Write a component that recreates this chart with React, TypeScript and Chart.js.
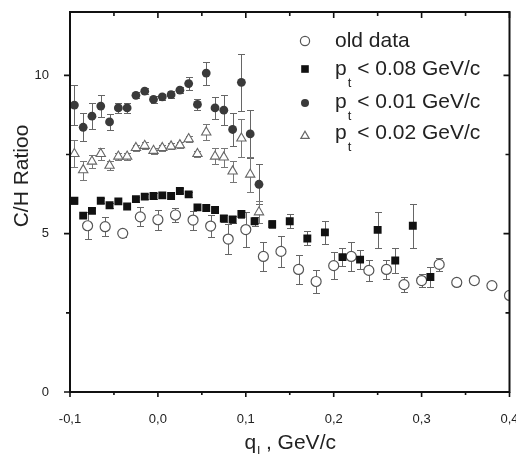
import React, { useEffect, useRef } from 'react';
import { Chart, registerables } from 'chart.js';

Chart.register(...registerables);

const FONT = '"Liberation Sans", Arial, Helvetica, sans-serif';

// x positions
const fineX = [-0.095, -0.085, -0.075, -0.065, -0.055, -0.045, -0.035, -0.025, -0.015, -0.005, 0.005, 0.015, 0.025, 0.035, 0.045, 0.055, 0.065, 0.075, 0.085, 0.095, 0.105, 0.115];
const squareX = [-0.095, -0.085, -0.075, -0.065, -0.055, -0.045, -0.035, -0.025, -0.015, -0.005, 0.005, 0.015, 0.025, 0.035, 0.045, 0.055, 0.065, 0.075, 0.085, 0.095, 0.11, 0.13, 0.15, 0.17, 0.19, 0.21, 0.23, 0.25, 0.27, 0.29, 0.31];
const oldX = [-0.08, -0.06, -0.04, -0.02, 0.0, 0.02, 0.04, 0.06, 0.08, 0.1, 0.12, 0.14, 0.16, 0.18, 0.2, 0.22, 0.24, 0.26, 0.28, 0.3, 0.32, 0.34, 0.36, 0.38, 0.4];

// series values
const oldY = [5.25, 5.22, 5.01, 5.53, 5.44, 5.59, 5.43, 5.24, 4.83, 5.13, 4.28, 4.44, 3.87, 3.49, 3.99, 4.28, 3.84, 3.87, 3.39, 3.52, 4.03, 3.46, 3.52, 3.36, 3.05];
const oldErr = [0.43, 0.3, 0.12, 0.3, 0.31, 0.21, 0.3, 0.36, 0.47, 0.56, 0.47, 0.5, 0.46, 0.35, 0.42, 0.47, 0.33, 0.3, 0.24, 0.21, 0.21, 0.1, 0.1, 0.1, 0.1];

const sq008Y = [6.04, 5.57, 5.72, 6.04, 5.9, 6.02, 5.86, 6.09, 6.17, 6.19, 6.21, 6.19, 6.35, 6.24, 5.83, 5.81, 5.75, 5.48, 5.45, 5.62, 5.39, 5.3, 5.39, 4.85, 5.04, 4.26, 4.18, 5.12, 4.15, 5.25, 3.63];
const sq008Err = [0.1, 0.08, 0.08, 0.08, 0.08, 0.08, 0.08, 0.08, 0.08, 0.08, 0.08, 0.08, 0.08, 0.08, 0.08, 0.08, 0.1, 0.12, 0.12, 0.12, 0.15, 0.12, 0.22, 0.22, 0.36, 0.29, 0.31, 0.57, 0.39, 0.7, 0.32];

const circ001Y = [9.06, 8.36, 8.71, 9.03, 8.53, 8.97, 8.97, 9.37, 9.5, 9.24, 9.32, 9.39, 9.53, 9.74, 9.08, 10.07, 8.97, 8.9, 8.29, 9.78, 8.15, 6.56];
const circ001Err = [0.64, 0.44, 0.41, 0.35, 0.25, 0.16, 0.15, 0.1, 0.1, 0.1, 0.1, 0.1, 0.1, 0.2, 0.17, 0.36, 0.34, 0.47, 0.51, 0.9, 0.75, 0.63];

const tri002Y = [7.52, 7.01, 7.28, 7.52, 7.15, 7.44, 7.44, 7.71, 7.78, 7.62, 7.71, 7.76, 7.8, 7.99, 7.52, 8.2, 7.44, 7.41, 6.97, 8.01, 6.87, 5.68];
const tri002Err = [0.43, 0.3, 0.22, 0.2, 0.15, 0.1, 0.1, 0.1, 0.1, 0.1, 0.1, 0.1, 0.1, 0.1, 0.1, 0.25, 0.25, 0.3, 0.34, 0.6, 0.55, 0.35];

// ticks
const xMajor = [-0.1, 0, 0.1, 0.2, 0.3, 0.4];
const xMinor = [-0.05, 0.05, 0.15, 0.25, 0.35];
const yMajor = [0, 5, 10];
const yMinor = [2.5, 7.5];

const legendItems = ['old data', '< 0.08 GeV/c', '< 0.01 GeV/c', '< 0.02 GeV/c'];

const zip = (xs: number[], ys: number[]) => ys.map((y, i) => ({ x: xs[i], y }));

const errorBarPlugin = {
  id: 'errorBars',
  beforeDatasetsDraw(chart: any) {
    const { ctx, chartArea } = chart;
    const xs = chart.scales.x;
    const ys = chart.scales.y;
    ctx.save();
    ctx.beginPath();
    ctx.rect(chartArea.left, chartArea.top, chartArea.right - chartArea.left, chartArea.bottom - chartArea.top);
    ctx.clip();
    chart.data.datasets.forEach((ds: any) => {
      const errs = ds.errors;
      if (!errs) return;
      ctx.strokeStyle = ds.errorColor;
      ctx.lineWidth = 1;
      ds.data.forEach((p: any, i: number) => {
        const e = errs[i];
        if (!e) return;
        const px = Math.round(xs.getPixelForValue(p.x)) + 0.5;
        const top = Math.round(ys.getPixelForValue(p.y + e)) + 0.5;
        const bot = Math.round(ys.getPixelForValue(p.y - e)) + 0.5;
        ctx.beginPath();
        ctx.moveTo(px, top);
        ctx.lineTo(px, bot);
        ctx.moveTo(px - 3.5, top);
        ctx.lineTo(px + 3.5, top);
        ctx.moveTo(px - 3.5, bot);
        ctx.lineTo(px + 3.5, bot);
        ctx.stroke();
      });
    });
    ctx.restore();
  },
};

const framePlugin = {
  id: 'frame',
  afterDatasetsDraw(chart: any) {
    const { ctx, chartArea } = chart;
    const { left, right, top, bottom } = chartArea;
    const xs = chart.scales.x;
    const ys = chart.scales.y;
    ctx.save();
    ctx.strokeStyle = '#111';
    ctx.lineWidth = 2;
    ctx.strokeRect(left, top, right - left, bottom - top);
    ctx.lineWidth = 1.6;
    ctx.beginPath();
    const xt = (v: number, lenOut: number, lenIn: number) => {
      const px = xs.getPixelForValue(v);
      ctx.moveTo(px, bottom + lenOut);
      ctx.lineTo(px, bottom);
      ctx.moveTo(px, top);
      ctx.lineTo(px, top + lenIn);
    };
    xMajor.forEach((v) => xt(v, 5, 6));
    xMinor.forEach((v) => xt(v, 3, 4));
    const yt = (v: number, lenOut: number, lenIn: number) => {
      const py = ys.getPixelForValue(v);
      ctx.moveTo(left - lenOut, py);
      ctx.lineTo(left, py);
      ctx.moveTo(right, py);
      ctx.lineTo(right - lenIn, py);
    };
    yMajor.forEach((v) => yt(v, 6, 6));
    yMinor.forEach((v) => yt(v, 4, 4));
    ctx.stroke();
    ctx.restore();
  },
  afterDraw(chart: any) {
    const { ctx } = chart;
    ctx.save();
    ctx.fillStyle = '#222';
    // x title: q_l , GeV/c
    const big = `21px ${FONT}`;
    const small = `13px ${FONT}`;
    ctx.font = big;
    const w1 = ctx.measureText('q').width;
    const w3 = ctx.measureText(' , GeV/c').width;
    ctx.font = small;
    const w2 = ctx.measureText('l').width;
    const total = w1 + w2 + w3;
    const cx = (chart.chartArea.left + chart.chartArea.right) / 2;
    let x0 = cx - total / 2;
    const base = 449;
    ctx.textBaseline = 'alphabetic';
    ctx.textAlign = 'left';
    ctx.font = big;
    ctx.fillText('q', x0, base);
    x0 += w1;
    ctx.font = small;
    ctx.fillText('l', x0 + 1, base + 6);
    x0 += w2 + 1;
    ctx.font = big;
    ctx.fillText(' , GeV/c', x0, base);

    // y title
    ctx.save();
    ctx.translate(28, 176);
    ctx.rotate(-Math.PI / 2);
    ctx.textAlign = 'center';
    ctx.font = big;
    ctx.fillText('C/H Ratioo', 0, 0);
    ctx.restore();

    // legend
    const symX = 305;
    const textX = 335;
    const baselines = [47, 75, 108, 139];
    const symY = [41, 69, 103, 136];
    ctx.fillStyle = '#222';
    legendItems.forEach((label, i) => {
      ctx.font = big;
      if (i === 0) {
        ctx.fillText(label, textX, baselines[i]);
      } else {
        ctx.fillText('p', textX, baselines[i]);
        const pw = ctx.measureText('p').width;
        ctx.font = small;
        ctx.fillText('t', textX + pw + 1, baselines[i] + 12);
        const tw = ctx.measureText('t').width;
        ctx.font = big;
        ctx.fillText(' ' + label, textX + pw + tw + 1, baselines[i]);
      }
    });
    // symbols
    ctx.lineWidth = 1.2;
    // open circle
    ctx.beginPath();
    ctx.arc(symX, symY[0], 4.6, 0, Math.PI * 2);
    ctx.fillStyle = '#fff';
    ctx.fill();
    ctx.strokeStyle = '#555';
    ctx.stroke();
    // square
    ctx.fillStyle = '#111';
    ctx.fillRect(symX - 3.8, symY[1] - 3.8, 7.6, 7.6);
    // filled circle
    ctx.beginPath();
    ctx.arc(symX, symY[2], 4, 0, Math.PI * 2);
    ctx.fillStyle = '#3a3a3a';
    ctx.fill();
    // triangle
    ctx.beginPath();
    const r = 4.8;
    ctx.moveTo(symX, symY[3] - r);
    ctx.lineTo(symX + r * 0.866, symY[3] + r / 2);
    ctx.lineTo(symX - r * 0.866, symY[3] + r / 2);
    ctx.closePath();
    ctx.fillStyle = '#fff';
    ctx.fill();
    ctx.strokeStyle = '#666';
    ctx.stroke();
    ctx.restore();
  },
};

export default function App() {
  const ref = useRef<HTMLCanvasElement | null>(null);
  useEffect(() => {
    document.body.style.margin = '0';
    const canvas = ref.current;
    if (!canvas) return;
    const chart = new Chart(canvas, {
      type: 'scatter',
      data: {
        datasets: [
          {
            label: 'pt < 0.08 GeV/c',
            data: zip(squareX, sq008Y),
            errors: sq008Err,
            errorColor: '#666',
            pointStyle: 'rect',
            pointRadius: 5.6,
            backgroundColor: '#111',
            borderColor: '#111',
            borderWidth: 0,
          } as any,
          {
            label: 'pt < 0.01 GeV/c',
            data: zip(fineX, circ001Y),
            errors: circ001Err,
            errorColor: '#666',
            pointStyle: 'circle',
            pointRadius: 4.4,
            backgroundColor: '#3a3a3a',
            borderColor: '#3a3a3a',
            borderWidth: 0,
          } as any,
          {
            label: 'pt < 0.02 GeV/c',
            data: zip(fineX, tri002Y),
            errors: tri002Err,
            errorColor: '#777',
            pointStyle: 'triangle',
            pointRadius: 5.4,
            backgroundColor: '#fff',
            borderColor: '#666',
            borderWidth: 1.1,
          } as any,
          {
            label: 'old data',
            data: zip(oldX, oldY),
            errors: oldErr,
            errorColor: '#666',
            pointStyle: 'circle',
            pointRadius: 5,
            backgroundColor: '#fff',
            borderColor: '#555',
            borderWidth: 1.2,
          } as any,
        ],
      },
      options: {
        animation: false,
        responsive: false,
        devicePixelRatio: 1,
        layout: { padding: { top: 12, right: 5, left: 0, bottom: 0 } },
        plugins: { legend: { display: false }, tooltip: { enabled: false } },
        elements: { point: { hoverRadius: 5 } },
        scales: {
          x: {
            type: 'linear',
            min: -0.1,
            max: 0.4,
            grid: { display: false },
            border: { display: false },
            afterBuildTicks: (s: any) => {
              s.ticks = xMajor.map((v) => ({ value: v }));
            },
            afterFit: (s: any) => {
              s.height = 62;
              s.paddingLeft = 0;
              s.paddingRight = 0;
            },
            ticks: {
              autoSkip: false,
              maxRotation: 0,
              padding: 12,
              color: '#222',
              font: { family: FONT, size: 13 },
              callback: (v: any) => Number(v).toFixed(1).replace('.', ','),
            },
          },
          y: {
            type: 'linear',
            min: 0,
            max: 12,
            grid: { display: false },
            border: { display: false },
            afterBuildTicks: (s: any) => {
              s.ticks = yMajor.map((v) => ({ value: v }));
            },
            afterFit: (s: any) => {
              s.width = 70;
              s.paddingTop = 0;
              s.paddingBottom = 0;
            },
            ticks: {
              padding: 13,
              color: '#222',
              font: { family: FONT, size: 13 },
              callback: (v: any) => String(v),
            },
          },
        },
      } as any,
      plugins: [errorBarPlugin, framePlugin],
    });
    return () => chart.destroy();
  }, []);
  return (
    <div style={{ position: 'fixed', left: 0, top: 0, width: 516, height: 454, background: '#fff' }}>
      <canvas ref={ref} width={516} height={454} style={{ width: 516, height: 454, display: 'block' }} />
    </div>
  );
}
